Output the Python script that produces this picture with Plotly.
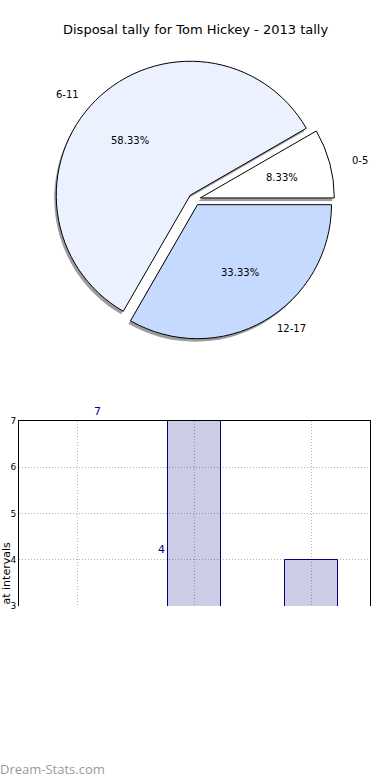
import math
import plotly.graph_objects as go

# ---------------- data ----------------
title_text = "Disposal tally for Tom Hickey - 2013 tally"
pie_labels = ["0-5", "6-11", "12-17"]
pie_values = [1, 7, 4]
pie_colors = ["#FFFFFF", "#EBF1FF", "#C6DAFF"]

bar_positions = [0, 1, 2]
bar_values = [1, 7, 4]
bar_text = ["1", "7", "4"]
y_ticks = [3, 4, 5, 6, 7]
y_title = "at intervals"
watermark = "Dream-Stats.com"

# ---------------- layout constants ----------------
W, H = 390, 780
FONT = "DejaVu Sans"

# pie geometry (pixels)
cx, cy = 194.5, 199.5
R = 134.0
pull_px = 6.0
pull = pull_px / R
half = R * (1 + pull)

def px2paper(x, y):
    return x / W, 1 - y / H

dom_x = [(cx - half) / W, (cx + half) / W]
dom_y = [1 - (cy + half) / H, 1 - (cy - half) / H]

total = sum(pie_values)
# matplotlib: first slice starts at 3 o'clock, counterclockwise.
# plotly (ccw): first slice ENDS at `rotation` (clockwise degrees from 12 o'clock)
rotation = 90 - 360.0 * pie_values[0] / total

fig = go.Figure()

# shadow pie
sx, sy = -2.0, 3.0
fig.add_trace(go.Pie(
    labels=pie_labels, values=pie_values, sort=False,
    direction="counterclockwise", rotation=rotation,
    pull=[pull] * len(pie_values),
    marker=dict(colors=["#9c9c9c"] * len(pie_values), line=dict(width=0)),
    textinfo="none", hoverinfo="skip", showlegend=False,
    domain=dict(x=[dom_x[0] + sx / W, dom_x[1] + sx / W],
                y=[dom_y[0] - sy / H, dom_y[1] - sy / H]),
))

# main pie
fig.add_trace(go.Pie(
    labels=pie_labels, values=pie_values, sort=False,
    direction="counterclockwise", rotation=rotation,
    pull=[pull] * len(pie_values),
    marker=dict(colors=pie_colors, line=dict(color="#000000", width=1)),
    textinfo="none", showlegend=False,
    domain=dict(x=dom_x, y=dom_y),
))

# pie texts (matplotlib-like placement)
Rx, Ry = 141.0, 130.0
start = 0.0
annotations = []
for lab, v in zip(pie_labels, pie_values):
    span = 360.0 * v / total
    mid = math.radians(start + span / 2)
    start += span
    ox = cx + pull_px * math.cos(mid)
    oy = cy - pull_px * math.sin(mid)
    # percent
    px_, py_ = ox + 0.6 * Rx * math.cos(mid), oy - 0.6 * Ry * math.sin(mid)
    xp, yp = px2paper(px_, py_)
    annotations.append(dict(x=xp, y=yp, xref="paper", yref="paper",
                            text="%.2f%%" % (100.0 * v / total), showarrow=False,
                            font=dict(family=FONT, size=10, color="#000000"),
                            xanchor="center", yanchor="middle"))
    # label
    lx, ly = ox + 1.1 * Rx * math.cos(mid), oy - 1.1 * Ry * math.sin(mid)
    xp, yp = px2paper(lx, ly)
    annotations.append(dict(x=xp, y=yp, xref="paper", yref="paper",
                            text=lab, showarrow=False,
                            font=dict(family=FONT, size=10, color="#000000"),
                            xanchor="left" if math.cos(mid) > 0 else "right",
                            yanchor="middle"))

# title as annotation for exact placement
annotations.append(dict(x=0.5, y=1 - 30 / H, xref="paper", yref="paper",
                        text=title_text, showarrow=False,
                        font=dict(family=FONT, size=13, color="#000000"),
                        xanchor="center", yanchor="middle"))

# bar chart
fig.add_trace(go.Bar(
    x=bar_positions, y=bar_values, width=0.45,
    marker=dict(color="rgba(0,0,128,0.2)", line=dict(color="#000080", width=1)),
    xaxis="x", yaxis="y", showlegend=False, hoverinfo="skip",
))

for i, (v, t) in enumerate(zip(bar_values, bar_text)):
    annotations.append(dict(x=i * 0.55 - 0.38, y=v, xref="x", yref="y",
                            text=t, showarrow=False, yshift=10,
                            font=dict(family=FONT, size=11, color="#000080"),
                            xanchor="center", yanchor="middle"))

annotations.append(dict(x=-2 / W, y=1 - 606 / H, xref="paper", yref="paper",
                        text=y_title, textangle=-90, showarrow=False,
                        font=dict(family=FONT, size=11, color="#000000"),
                        xanchor="left", yanchor="bottom", borderpad=0))

annotations.append(dict(x=0, y=1 - 769 / H, xref="paper", yref="paper",
                        text=watermark, showarrow=False, xshift=-2,
                        font=dict(family="Open Sans", size=13, color="#9a9a9a"),
                        xanchor="left", yanchor="middle"))

grid = dict(showgrid=True, gridcolor="#b4b4b4", griddash="1px,2px", gridwidth=1)
fig.update_layout(
    width=W, height=H,
    margin=dict(l=0, r=0, t=0, b=0, autoexpand=False),
    paper_bgcolor="white", plot_bgcolor="white",
    xaxis=dict(domain=[19 / W, 370 / W], range=[-0.5, 2.5], side="top",
               showline=True, linecolor="black", linewidth=1, mirror=False,
               tickvals=bar_positions, showticklabels=False, ticks="",
               zeroline=False, anchor="y", automargin=False, **grid),
    yaxis=dict(domain=[1 - 606 / H, 1 - 421 / H], range=[3, 7], tickvals=y_ticks,
               showline=True, linecolor="black", linewidth=1, mirror=True,
               ticks="", zeroline=False, anchor="x", automargin=False,
               tickfont=dict(family=FONT, size=9, color="#000000"), **grid),
    annotations=annotations,
    bargap=0,
)

fig.write_html("out.html", config={"displayModeBar": False},
               post_script="document.body.style.margin='0';document.body.style.overflow='hidden';")
